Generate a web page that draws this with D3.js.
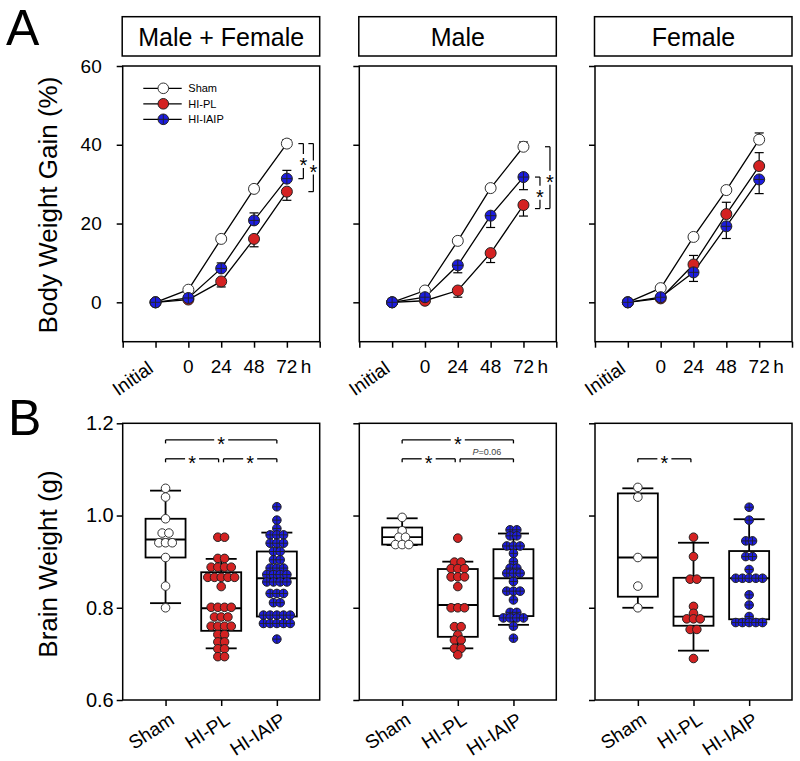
<!DOCTYPE html>
<html><head><meta charset="utf-8">
<script src="https://cdn.jsdelivr.net/npm/d3@7"></script>
<style>body{margin:0;background:#fff} svg{display:block} text{font-family:"Liberation Sans",Arial,sans-serif}</style>
</head><body><svg id="c" width="800" height="761"></svg>
<script>
// ---------- DATA ----------
const panelTitles = ["Male + Female", "Male", "Female"];
const timeLabels = ["Initial", "0", "24", "48", "72"];
const groupNames = ["Sham", "HI-PL", "HI-IAIP"];
const gainTicks = [0, 20, 40, 60];
const brainTicks = [0.6, 0.8, 1.0, 1.2];

// Body weight gain (%) per panel [M+F, Male, Female], time points Initial,0,24,48,72 h
const gainSham = [[0, 3.2, 16.1, 28.8, 40.3], [0, 3.0, 15.6, 29.0, 39.5], [0, 3.6, 16.6, 28.5, 41.3]];
const gainPL   = [[0, 0.7, 5.3, 16.1, 28.1], [0, 0.4, 3.0, 12.5, 24.7], [0, 1.0, 9.6, 22.4, 34.6]];
const gainIAIP = [[0, 1.1, 8.6, 20.8, 31.4], [0, 1.3, 9.4, 22.0, 31.8], [0, 1.3, 7.6, 19.3, 31.2]];
const seSham = [[0, 0.3, 0.6, 0.8, 1.0], [0, 0.4, 0.6, 0.8, 1.2], [0, 0.4, 0.6, 0.8, 1.7]];
const sePL   = [[0, 0.4, 1.4, 2.0, 2.2], [0, 0.4, 1.7, 2.4, 2.8], [0, 0.5, 2.3, 3.0, 3.4]];
const seIAIP = [[0, 0.4, 1.4, 1.9, 2.1], [0, 0.5, 1.9, 3.0, 3.2], [0, 0.5, 2.3, 3.1, 3.6]];
const errDirSham = [1, 1, 1];
const errDirPL = [-1, -1, 1];
const errDirIAIP = [1, -1, -1];
// significance brackets on gain panels: [top value, bottom value, label]
const gainSig = [
  [[40.3, 31.4, "*"], [40.3, 28.1, "*"]],
  [[31.8, 23.8, "*"], [39.5, 23.8, "*"]],
  []
];

// Brain weight (g) individual values
const brainSham = [
  [1.059, 1.040, 0.993, 0.962, 0.962, 0.941, 0.941, 0.941, 0.909, 0.847, 0.800],
  [0.996, 0.967, 0.953, 0.953, 0.937, 0.937, 0.937],
  [1.061, 1.040, 0.909, 0.847, 0.800]
];
const brainPL = [
  [0.953, 0.953, 0.907, 0.907, 0.888, 0.888, 0.888, 0.888, 0.866, 0.866, 0.866, 0.866, 0.866, 0.846,
   0.801, 0.801, 0.801, 0.801, 0.780, 0.780, 0.780, 0.760, 0.760, 0.760, 0.760, 0.742, 0.742,
   0.726, 0.726, 0.711, 0.711, 0.694, 0.694],
  [0.951, 0.899, 0.899, 0.885, 0.885, 0.885, 0.867, 0.867, 0.867, 0.846, 0.800, 0.800, 0.800,
   0.759, 0.759, 0.741, 0.730, 0.730, 0.712, 0.712, 0.698],
  [0.953, 0.911, 0.862, 0.862, 0.803, 0.788, 0.776, 0.776, 0.776, 0.753, 0.753, 0.690]
];
const brainIAIP = [
  [1.019, 0.990, 0.972, 0.958, 0.958, 0.958, 0.940, 0.940, 0.940, 0.922, 0.922, 0.904, 0.904,
   0.886, 0.886, 0.886, 0.872, 0.872, 0.872, 0.872, 0.856, 0.856, 0.856, 0.856, 0.831, 0.831, 0.831,
   0.811, 0.811, 0.784, 0.784, 0.784, 0.784, 0.784, 0.766, 0.766, 0.766, 0.766, 0.766, 0.732],
  [0.969, 0.969, 0.956, 0.956, 0.934, 0.934, 0.934, 0.918, 0.900, 0.886, 0.886, 0.875, 0.875, 0.875,
   0.857, 0.836, 0.836, 0.836, 0.817, 0.790, 0.790, 0.778, 0.778, 0.778, 0.778, 0.760, 0.734],
  [1.018, 0.990, 0.945, 0.945, 0.911, 0.911, 0.883, 0.864, 0.864, 0.864, 0.864, 0.864, 0.828,
   0.806, 0.781, 0.768, 0.768, 0.768, 0.768, 0.768]
];
// box stats [q1, median, q3, whiskerLow, whiskerHigh]
const boxSham = [[0.909, 0.948, 0.993, 0.810, 1.054], [0.937, 0.953, 0.974, 0.936, 0.994], [0.824, 0.909, 1.048, 0.800, 1.059]];
const boxPL   = [[0.750, 0.799, 0.877, 0.712, 0.906], [0.737, 0.806, 0.884, 0.712, 0.900], [0.761, 0.781, 0.865, 0.707, 0.941]];
const boxIAIP = [[0.781, 0.864, 0.922, 0.768, 0.963], [0.782, 0.864, 0.927, 0.763, 0.961], [0.775, 0.864, 0.923, 0.768, 0.992]];
// brain significance brackets: [from group, to group, level (g), label]
const brainSig = [
  [[0, 2, 1.164, "*"], [0, 1, 1.123, "*"], [1, 2, 1.123, "*"]],
  [[0, 2, 1.164, "*"], [0, 1, 1.123, "*"], [1, 2, 1.123, "P=0.06"]],
  [[0, 1, 1.123, "*"]]
];

// ---------- STYLE / LAYOUT ----------
const RED = "#d42222", BLUE = "#1c1ce0", OUT = "#222";
const panelLeft = [122.7, 359.3, 595], PW = 197;
const topY = [66, 341.7], botY = [423.3, 700];
const svg = d3.select("#c");

function marker(g, cx, cy, r, kind) {
  const fill = kind === 0 ? "#fff" : kind === 1 ? RED : BLUE;
  g.append("circle").attr("cx", cx).attr("cy", cy).attr("r", r)
    .attr("fill", fill).attr("stroke", kind === 0 ? "#333" : OUT).attr("stroke-width", 1);
  if (kind === 2) {
    g.append("line").attr("x1", cx - r).attr("x2", cx + r).attr("y1", cy).attr("y2", cy).attr("stroke", OUT).attr("stroke-width", 0.9);
    g.append("line").attr("x1", cx).attr("x2", cx).attr("y1", cy - r).attr("y2", cy + r).attr("stroke", OUT).attr("stroke-width", 0.9);
  }
}
function styleAxis(g, fs) {
  g.select(".domain").remove();
  g.selectAll(".tick line").attr("stroke", "#000").attr("stroke-width", 1.5);
  g.selectAll(".tick text").attr("fill", "#000").style("font-size", (fs || 19) + "px")
    .style("font-family", '"Liberation Sans",Arial,sans-serif');
}

// Panel letters
svg.append("text").attr("x", 6).attr("y", 45).style("font-size", "50px").text("A");
svg.append("text").attr("x", 8).attr("y", 435).style("font-size", "50px").text("B");
// Y titles
svg.append("text").attr("transform", "translate(57,205) rotate(-90)").attr("text-anchor", "middle")
  .style("font-size", "26px").text("Body Weight Gain (%)");
svg.append("text").attr("transform", "translate(57,564) rotate(-90)").attr("text-anchor", "middle")
  .style("font-size", "26px").text("Brain Weight (g)");

const seriesG = [gainSham, gainPL, gainIAIP];
const seriesSE = [seSham, sePL, seIAIP];
const seriesDir = [errDirSham, errDirPL, errDirIAIP];

panelTitles.forEach((title, p) => {
  const L = panelLeft[p];
  // title box
  svg.append("rect").attr("x", L - 0.5).attr("y", 16.7).attr("width", PW + 0.5).attr("height", 39.3)
    .attr("fill", "none").attr("stroke", "#000").attr("stroke-width", 1.5);
  svg.append("text").attr("x", L + PW / 2).attr("y", 46).attr("text-anchor", "middle")
    .style("font-size", "25px").text(title);

  // ----- gain panel -----
  const x = d3.scaleLinear().domain([-1, 5]).range([L, L + PW]);
  const y = d3.scaleLinear().domain([-10, 60]).range([topY[1], topY[0]]);
  const ga = svg.append("g").attr("transform", `translate(${L},0)`)
    .call(d3.axisLeft(y).tickValues(gainTicks).tickSize(6).tickPadding(15)
      .tickFormat(p === 0 ? d3.format("d") : () => ""));
  styleAxis(ga);
  const gb = svg.append("g").attr("transform", `translate(0,${topY[1]})`)
    .call(d3.axisBottom(x).tickValues([-1, 0, 1, 2, 3, 4, 5]).tickSize(6).tickFormat(() => ""));
  styleAxis(gb);
  timeLabels.forEach((t, i) => {
    if (i === 0) {
      svg.append("text").attr("transform", `translate(${x(i) - 1},371) rotate(-35)`)
        .attr("text-anchor", "end").style("font-size", "19px").text(t);
    } else {
      svg.append("text").attr("x", x(i)).attr("y", 373).attr("text-anchor", "middle")
        .style("font-size", "19px").text(t);
    }
  });
  svg.append("text").attr("x", x(4) + 14).attr("y", 373).style("font-size", "19px").text("h");
  svg.append("rect").attr("x", L).attr("y", topY[0]).attr("width", PW).attr("height", topY[1] - topY[0])
    .attr("fill", "none").attr("stroke", "#000").attr("stroke-width", 1.5);

  const line = d3.line().x((d, i) => x(i)).y(d => y(d));
  const pg = svg.append("g");
  seriesG.forEach(s => {
    pg.append("path").attr("d", line(s[p])).attr("fill", "none").attr("stroke", "#000").attr("stroke-width", 1.3);
  });
  seriesG.forEach((s, k) => {
    s[p].forEach((v, i) => {
      const se = seriesSE[k][p][i];
      if (se <= 0) return;
      const ye = y(v + seriesDir[k][p] * se);
      pg.append("line").attr("x1", x(i)).attr("x2", x(i)).attr("y1", y(v)).attr("y2", ye).attr("stroke", "#000").attr("stroke-width", 1.2);
      pg.append("line").attr("x1", x(i) - 4.5).attr("x2", x(i) + 4.5).attr("y1", ye).attr("y2", ye).attr("stroke", "#000").attr("stroke-width", 1.2);
    });
  });
  seriesG.forEach((s, k) => {
    s[p].forEach((v, i) => marker(pg, x(i), y(v), 5.5, k));
  });
  // significance brackets
  gainSig[p].forEach((b, j) => {
    const bx = x(4) + (j === 0 ? 16.5 : 26.5);
    const y1 = y(b[0]), y2 = y(b[1]), ym = (y1 + y2) / 2;
    const add = (a, b2, c, d) => pg.append("line").attr("x1", a).attr("y1", b2).attr("x2", c).attr("y2", d)
      .attr("stroke", "#000").attr("stroke-width", 1.2);
    add(bx - 5, y1, bx, y1); add(bx - 5, y2, bx, y2);
    add(bx, y1, bx, ym - 7); add(bx, ym + 7, bx, y2);
    pg.append("text").attr("x", bx).attr("y", ym + 11).attr("text-anchor", "middle").style("font-size", "20px").text(b[2]);
  });
  if (p === 0) {
    const leg = svg.append("g");
    groupNames.forEach((n, k) => {
      const ly = 88.3 + k * 15.5;
      leg.append("line").attr("x1", 143.3).attr("x2", 181.7).attr("y1", ly).attr("y2", ly).attr("stroke", "#000").attr("stroke-width", 1.3);
      marker(leg, 163.3, ly, 5.3, k);
      leg.append("text").attr("x", 188.3).attr("y", ly + 4).style("font-size", "11px").text(n);
    });
  }

  // ----- brain panel -----
  const xb = d3.scaleLinear().domain([-0.77, 2.77]).range([L, L + PW]);
  const yb = d3.scaleLinear().domain([0.6, 1.2]).range([botY[1], botY[0]]);
  const ba = svg.append("g").attr("transform", `translate(${L},0)`)
    .call(d3.axisLeft(yb).tickValues(brainTicks).tickSize(6).tickPadding(3)
      .tickFormat(p === 0 ? d3.format(".1f") : () => ""));
  styleAxis(ba, 20);
  const bb = svg.append("g").attr("transform", `translate(0,${botY[1]})`)
    .call(d3.axisBottom(xb).tickValues([0, 1, 2]).tickSize(6).tickFormat(() => ""));
  styleAxis(bb);
  groupNames.forEach((n, i) => {
    svg.append("text").attr("transform", `translate(${xb(i) + 10},723) rotate(-33)`)
      .attr("text-anchor", "end").style("font-size", "19px").text(n);
  });
  svg.append("rect").attr("x", L).attr("y", botY[0]).attr("width", PW).attr("height", botY[1] - botY[0])
    .attr("fill", "none").attr("stroke", "#000").attr("stroke-width", 1.5);

  const bg = svg.append("g");
  const boxes = [boxSham[p], boxPL[p], boxIAIP[p]];
  boxes.forEach((b, i) => {
    const cx = xb(i);
    const add = (a, b2, c, d) => bg.append("line").attr("x1", a).attr("y1", b2).attr("x2", c).attr("y2", d)
      .attr("stroke", "#000").attr("stroke-width", 1.8);
    add(cx, yb(b[2]), cx, yb(b[4])); add(cx, yb(b[0]), cx, yb(b[3]));
    add(cx - 15.5, yb(b[4]), cx + 15.5, yb(b[4])); add(cx - 15.5, yb(b[3]), cx + 15.5, yb(b[3]));
    bg.append("rect").attr("x", cx - 20).attr("y", yb(b[2])).attr("width", 40).attr("height", yb(b[0]) - yb(b[2]))
      .attr("fill", "none").attr("stroke", "#000").attr("stroke-width", 1.8);
    add(cx - 20, yb(b[1]), cx + 20, yb(b[1]));
  });
  const pts = [brainSham[p], brainPL[p], brainIAIP[p]];
  pts.forEach((vals, i) => {
    const rows = d3.groups(vals, v => v);
    rows.forEach(([v, arr]) => {
      const n = arr.length;
      arr.forEach((_, j) => {
        const cx = xb(i) + (j - (n - 1) / 2) * 6.7;
        marker(bg, cx, yb(v), 4.3, i);
      });
    });
  });
  brainSig[p].forEach(b => {
    let x1 = xb(b[0]), x2 = xb(b[1]);
    if (b[0] === 1) x1 += 2.3;
    if (b[1] === 1) x2 -= 2.6;
    const yl = yb(b[2]), xm = (x1 + x2) / 2;
    const add = (a, b2, c, d) => bg.append("line").attr("x1", a).attr("y1", b2).attr("x2", c).attr("y2", d)
      .attr("stroke", "#000").attr("stroke-width", 1.3);
    add(x1, yl, x1, yl + 3.5); add(x2, yl, x2, yl + 3.5);
    if (b[3] === "*") {
      add(x1, yl, xm - 7, yl); add(xm + 7, yl, x2, yl);
      bg.append("text").attr("x", xm).attr("y", yl + 11).attr("text-anchor", "middle").style("font-size", "20px").text("*");
    } else {
      add(x1, yl, x2, yl);
      const t = bg.append("text").attr("x", xm).attr("y", yl - 3.5).attr("text-anchor", "middle")
        .style("font-size", "9px").attr("fill", "#444");
      t.append("tspan").style("font-style", "italic").text(b[3].slice(0, 1));
      t.append("tspan").text(b[3].slice(1));
    }
  });
});
</script></body></html>
